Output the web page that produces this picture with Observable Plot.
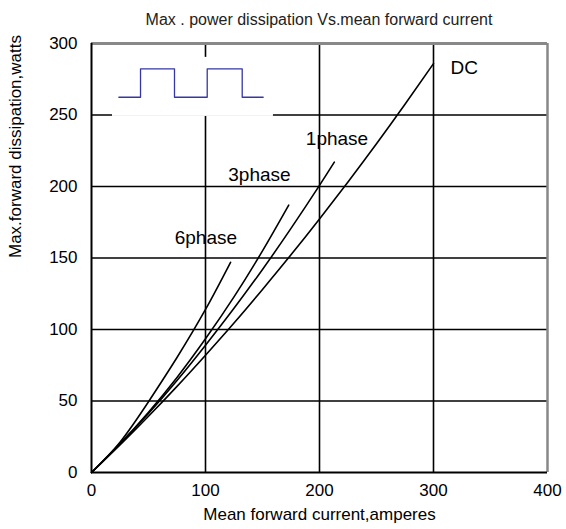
<!DOCTYPE html>
<html>
<head>
<meta charset="utf-8">
<script src="https://cdn.jsdelivr.net/npm/d3@7"></script>
<script src="https://cdn.jsdelivr.net/npm/@observablehq/plot@0.6"></script>
<style>
  body { margin: 0; background: #fff; }
  #title { height: 32px; width: 566px; box-sizing: border-box; padding-left: 72px; padding-top: 11px;
           text-align: center; font: 16px "Liberation Sans Narrow", "Arial Narrow", "Liberation Sans", Arial, sans-serif; color: #222; line-height: 18px; }
  svg text { font-family: "Liberation Sans", Arial, sans-serif; }
</style>
</head>
<body>
<div id="title">Max . power dissipation Vs.mean forward current</div>
<div id="chart"></div>
<script>
// Series (x = mean forward current A, y = max power W)
const dcX = [0, 25, 50, 75, 100, 125, 150, 175, 200, 225, 250, 275, 300];
const dcY = [0, 19.2, 39.3, 60.2, 82, 104.5, 128, 152.2, 177.3, 203.2, 229.9, 257.5, 285.9];
const ph1X = [0, 25, 50, 75, 100, 125, 150, 175, 200, 213];
const ph1Y = [0, 19.8, 41.2, 64.3, 89, 114.8, 142, 170.7, 200.8, 217];
const ph3X = [0, 25, 50, 75, 100, 125, 150, 173];
const ph3Y = [0, 20.2, 42.2, 66.5, 93.5, 122.8, 155, 187];
const ph6X = [0, 25, 50, 75, 100, 122];
const ph6Y = [0, 21.2, 49.5, 80.4, 114, 147];

const labelText = ["6phase", "3phase", "1phase", "DC"];
const labelX = [73, 120, 188, 315];
const labelY = [164, 208, 233, 283];

// square-wave icon in the inset
const waveX = [24, 43, 43, 72.8, 72.8, 101.5, 101.5, 132.2, 132.2, 150.6];
const waveY = [262.4, 262.4, 282.3, 282.3, 262.4, 262.4, 282.3, 282.3, 262.4, 262.4];

const xTicks = [0, 100, 200, 300, 400];
const yTicks = [0, 50, 100, 150, 200, 250, 300];

const series = [
  {name: "DC", xs: dcX, ys: dcY},
  {name: "1phase", xs: ph1X, ys: ph1Y},
  {name: "3phase", xs: ph3X, ys: ph3Y},
  {name: "6phase", xs: ph6X, ys: ph6Y}
];
const rows = series.flatMap(s => s.xs.map((x, i) => ({name: s.name, x, y: s.ys[i]})));
const labels = labelText.map((t, i) => ({t, x: labelX[i], y: labelY[i]}));
const wave = waveX.map((x, i) => ({x, y: waveY[i]}));

const chart = Plot.plot({
  width: 566,
  height: 497,
  marginTop: 11,
  marginBottom: 57,
  marginLeft: 91,
  marginRight: 19,
  style: {fontSize: "17px", color: "#000", background: "#fff"},
  x: {domain: [0, 400]},
  y: {domain: [0, 300]},
  marks: [
    Plot.gridX([100, 200, 300], {stroke: "#000", strokeOpacity: 1, strokeWidth: 1.6}),
    Plot.gridY([50, 100, 150, 200, 250], {stroke: "#000", strokeOpacity: 1, strokeWidth: 1.6}),
    Plot.rect([{}], {x1: 18.4, x2: 159.6, y1: 249, y2: 290.3, fill: "#fff"}),
    Plot.ruleY([300], {stroke: "#888", strokeWidth: 3}),
    Plot.ruleX([400], {stroke: "#888", strokeWidth: 2.5}),
    Plot.ruleX([0], {stroke: "#000", strokeWidth: 2}),
    Plot.ruleY([0], {stroke: "#000", strokeWidth: 2}),
    Plot.axisX(xTicks, {tickSize: 0, tickPadding: 11, fontSize: 17, label: null}),
    Plot.axisY(yTicks, {tickSize: 0, tickPadding: 14, fontSize: 17, label: null}),
    Plot.line(wave, {x: "x", y: "y", stroke: "#3636a6", strokeWidth: 1.3}),
    Plot.line(rows, {x: "x", y: "y", z: "name", stroke: "#000", strokeWidth: 1.6, curve: "natural"}),
    Plot.text(labels, {x: "x", y: "y", text: "t", textAnchor: "start", fontSize: 19, fill: "#000"}),
    Plot.text(["Mean forward current,amperes"], {frameAnchor: "bottom", dy: 47, fontSize: 17, fill: "#000"}),
    Plot.text(["Max.forward dissipation,watts"], {frameAnchor: "left", dx: -76, rotate: -90, fontSize: 17, fill: "#000"})
  ]
});
document.getElementById("chart").appendChild(chart);
</script>
</body>
</html>
